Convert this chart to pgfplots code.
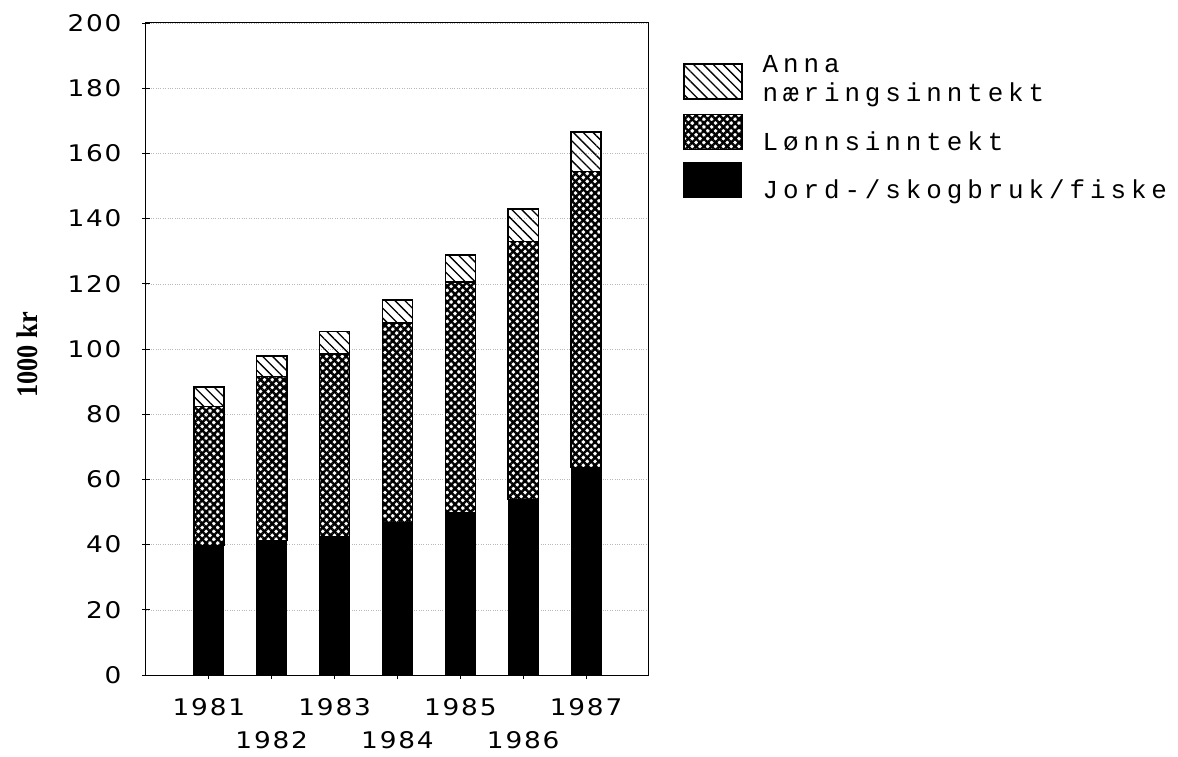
\documentclass[border=0pt]{standalone}
\usepackage{pgfplots}
\pgfplotsset{compat=1.18}
\usepackage{fontspec}
\usetikzlibrary{patterns,patterns.meta}
\newfontfamily\tickfont[FakeStretch=1.15,LetterSpace=8]{DejaVu Sans}
\newfontfamily\legfont[LetterSpace=19]{Liberation Mono}
\newfontfamily\labfont{Liberation Serif}
\tikzset{legshift/.initial=10bp, legext/.initial=0bp}
\pgfplotsset{myleg/.style={legend image code/.code={%
  \draw[##1] (0bp,{\pgfkeysvalueof{/tikz/legshift}-17.5bp}) rectangle (58bp,{\pgfkeysvalueof{/tikz/legshift}+17.5bp});
  \path (0bp,{\pgfkeysvalueof{/tikz/legshift}-17.5bp-\pgfkeysvalueof{/tikz/legext}}) (76bp,0bp);}}}
\pgfplotstableread{
year jord lonn anna
1981 39.7 42.6 6.1
1982 41.2 50.3 6.4
1983 42.4 56.1 6.8
1984 46.7 61.2 7.1
1985 49.8 70.7 8.3
1986 53.9 79.0 10.0
1987 63.7 90.7 12.1
}\datatable
\begin{document}
\begin{tikzpicture}
\begin{axis}[
  scale only axis, width=503bp, height=652bp,
  xmin=1980, xmax=1988, ymin=0, ymax=200,
  ybar stacked, bar width=0.48,
  area legend/.style={myleg},
  every axis plot post/.append style={myleg},
  xtick={1981,...,1987},
  xticklabels={{\strut 1981},{\strut\\1982},{\strut 1983},{\strut\\1984},{\strut 1985},{\strut\\1986},{\strut 1987}},
  xticklabel style={font=\tickfont\fontsize{23}{33}\selectfont, align=center, yshift=-10bp},
  ytick={0,20,...,200},
  yticklabel style={font=\tickfont\fontsize{23}{28}\selectfont, xshift=-17bp},
  /pgf/number format/assume math mode=true,
  xtick pos=bottom, ytick pos=left,
  tick align=center, major tick length=8bp,
  tick style={black, line width=0.8bp},
  ymajorgrids, grid style={dotted, gray!55, line width=0.5bp},
  axis line style={black, line width=1bp},
  ylabel={\labfont\bfseries\scalebox{0.88}[1]{1000 kr}},
  ylabel style={font=\fontsize{30}{32}\selectfont, at={(axis description cs:-0.2366,0.491)}, anchor=center},
  legend style={at={(axis description cs:1.0676,0.958)}, anchor=north west, draw=none, fill=none,
    font=\legfont\fontsize{26}{29}\selectfont, row sep=8bp, inner sep=0pt},
  legend cell align=left,
  reverse legend,
]
\addplot+[fill=black, draw=black, line width=1bp] table[x=year, y=jord] {\datatable};
\addlegendentry{Jord-/skogbruk/fiske}
\addplot+[draw=black, line width=1.5bp, pattern={Hatch[angle=45,distance=5.5bp,line width=2.4bp]}, pattern color=black] table[x=year, y=lonn] {\datatable};
\addlegendentry{Lønnsinntekt}
\addplot+[draw=black, line width=1.5bp, legshift=-10.5bp, legext=6bp, pattern={Lines[angle=-45,distance=7bp,line width=1.3bp]}, pattern color=black] table[x=year, y=anna] {\datatable};
\addlegendentry{\begin{tabular}{@{}l@{}}Anna\\næringsinntekt\end{tabular}}
\end{axis}
\path (current axis.south west) ++(-146bp,-82bp) rectangle ++(1178bp,757bp);
\end{tikzpicture}
\end{document}
